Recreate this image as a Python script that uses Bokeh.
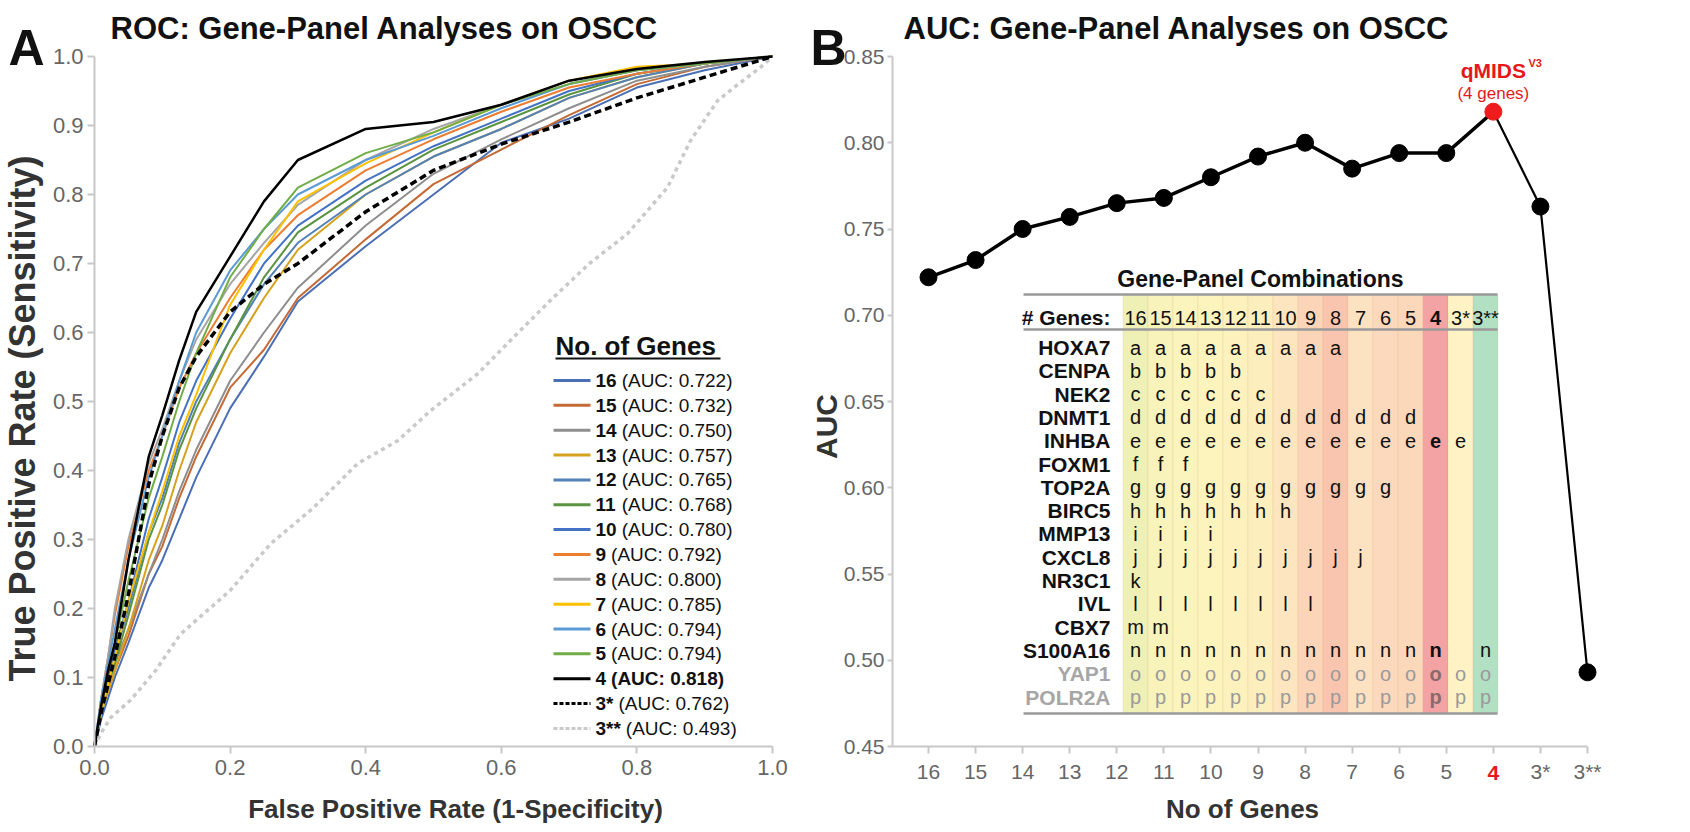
import math
from bokeh.plotting import figure
from bokeh.models import Range1d, FixedTicker, NumeralTickFormatter
from bokeh.layouts import row
from bokeh.embed import file_html
from bokeh.resources import INLINE
from bokeh.core.properties import value

FONT = "Liberation Sans"

# ---------------- Panel A: ROC curves ----------------
FPR = [0, .01, .02, .03, .05, .08, .10, .125, .15, .20, .25, .30, .40, .50, .60, .70, .80, .90, 1.0]
TPR_16 = [0, .04, .07, .10, .15, .23, .27, .33, .39, .49, .565, .645, .725, .80, .875, .91, .955, .98, 1]
TPR_15 = [0, .05, .08, .11, .16, .25, .29, .36, .42, .52, .575, .65, .735, .815, .865, .915, .96, .985, 1]
TPR_14 = [0, .06, .09, .12, .17, .25, .30, .37, .43, .53, .60, .665, .755, .83, .88, .925, .965, .985, 1]
TPR_13 = [0, .05, .08, .11, .17, .27, .32, .40, .47, .57, .65, .72, .80, .855, .895, .94, .97, .99, 1]
TPR_12 = [0, .06, .10, .13, .20, .31, .36, .44, .50, .59, .67, .73, .80, .855, .895, .94, .97, .99, 1]
TPR_11 = [0, .05, .09, .12, .19, .30, .35, .43, .49, .59, .68, .745, .81, .865, .905, .945, .975, .99, 1]
TPR_10 = [0, .06, .10, .14, .21, .33, .39, .47, .53, .62, .70, .755, .82, .87, .91, .95, .975, .99, 1]
TPR_9 = [0, .07, .13, .19, .29, .40, .45, .52, .57, .65, .72, .77, .835, .88, .92, .955, .975, .99, 1]
TPR_8 = [0, .07, .13, .20, .30, .41, .46, .53, .59, .67, .73, .785, .85, .895, .93, .96, .98, .99, 1]
TPR_7 = [0, .05, .09, .13, .21, .31, .37, .45, .51, .64, .72, .79, .845, .89, .93, .965, .985, .99, 1]
TPR_6 = [0, .07, .12, .17, .27, .39, .45, .53, .60, .69, .75, .80, .85, .885, .925, .96, .98, .99, 1]
TPR_5 = [0, .06, .11, .15, .24, .36, .42, .50, .57, .68, .75, .81, .86, .89, .93, .96, .98, .99, 1]
TPR_4 = [0, .06, .11, .15, .27, .42, .48, .56, .63, .71, .79, .85, .895, .905, .93, .965, .982, .992, 1]
TPR_3S = [0, .05, .09, .13, .22, .38, .45, .52, .565, .63, .67, .70, .775, .835, .873, .905, .94, .97, 1]
FPR_3SS = [0, .01, .024, .053, .09, .127, .2, .26, .323, .388, .447, .496, .565, .62, .677, .73, .786, .845, .879, .919, .943, .982, 1]
TPR_3SS = [0, .02, .042, .067, .11, .163, .226, .294, .346, .41, .443, .487, .54, .595, .651, .70, .743, .81, .878, .936, .955, .984, 1]

SERIES_NAMES = ["16", "15", "14", "13", "12", "11", "10", "9", "8", "7", "6", "5", "4", "3*", "3**"]
SERIES_AUC = [0.722, 0.732, 0.750, 0.757, 0.765, 0.768, 0.780, 0.792, 0.800, 0.785, 0.794, 0.794, 0.818, 0.762, 0.493]
SERIES_COLORS = ["#4a6fb5", "#c56a35", "#8e8e8e", "#d6a21e", "#5282b8", "#5a9440",
                 "#4472c4", "#ed7d31", "#a5a5a5", "#ffc000", "#5b9bd5", "#70ad47",
                 "#000000", "#000000", "#c9c9c9"]
COLORED_TPR = [TPR_16, TPR_15, TPR_14, TPR_13, TPR_12, TPR_11, TPR_10, TPR_9, TPR_8, TPR_7, TPR_6, TPR_5]
ROC_X_TICKS = [0.0, 0.2, 0.4, 0.6, 0.8, 1.0]
ROC_Y_TICKS = [0.0, 0.1, 0.2, 0.3, 0.4, 0.5, 0.6, 0.7, 0.8, 0.9, 1.0]

# ---------------- Panel B: AUC per panel ----------------
PANEL_LABELS = ["16", "15", "14", "13", "12", "11", "10", "9", "8", "7", "6", "5", "4", "3*", "3**"]
PANEL_AUC = [0.722, 0.732, 0.750, 0.757, 0.765, 0.768, 0.780, 0.792, 0.800, 0.785, 0.794, 0.794, 0.818, 0.763, 0.493]
AUC_TICKS = [0.45, 0.50, 0.55, 0.60, 0.65, 0.70, 0.75, 0.80, 0.85]
BEST = 12

GENES = ["HOXA7", "CENPA", "NEK2", "DNMT1", "INHBA", "FOXM1", "TOP2A", "BIRC5",
         "MMP13", "CXCL8", "NR3C1", "IVL", "CBX7", "S100A16", "YAP1", "POLR2A"]
GENE_CODES = list("abcdefghijklmnop")
# membership of each gene in panels 16 .. 3**
MEMBERSHIP = [
    "111111111000000",
    "111110000000000",
    "111111000000000",
    "111111111111000",
    "111111111111110",
    "111000000000000",
    "111111111110000",
    "111111100000000",
    "111100000000000",
    "111111111100000",
    "100000000000000",
    "111111110000000",
    "110000000000000",
    "111111111111101",
    "111111111111111",
    "111111111111111",
]
REF_GENES = ["YAP1", "POLR2A"]
BAND_COLORS = ["#eef0b6", "#f7f3ba", "#fbf4bc", "#fcf3bd", "#fdf2bd", "#fdefbd", "#fde6bf",
               "#fcd5b8", "#fac5af", "#fde2c2", "#fcd9bc", "#fcd8bb", "#f4a3a5", "#fff3c6", "#b2e0c3"]

H = 830
W1 = 790
W2 = 1690 - W1


def style_axes(p, size):
    p.grid.visible = False
    p.outline_line_color = None
    p.min_border = 0
    for ax in (p.xaxis[0], p.yaxis[0]):
        ax.axis_line_color = "#c8c8c8"
        ax.axis_line_width = 2
        ax.major_tick_line_color = "#c8c8c8"
        ax.major_tick_line_width = 2
        ax.major_tick_out = 7
        ax.major_tick_in = 0
        ax.minor_tick_line_color = None
        ax.major_label_text_font = FONT
        ax.major_label_text_font_size = size
        ax.major_label_text_color = "#666666"


def put_text(p, x, y, text, size, bold=True, color="#111111", align="left", angle=0.0, baseline="middle"):
    p.text(x=[x], y=[y], text=[text], text_font=value(FONT), text_font_size=size,
           text_font_style="bold" if bold else "normal", text_color=color,
           text_align=align, text_baseline=baseline, angle=angle)


# ================= Panel A =================
A_L, A_R, A_T, A_B = 94, 772, 56, 746


def lx(px):
    return (px - A_L) / (A_R - A_L)


def ly(py):
    return (A_B - py) / (A_B - A_T)


p1 = figure(width=W1, height=H, x_range=Range1d(lx(0), lx(W1)), y_range=Range1d(ly(H), ly(0)),
            output_backend="svg", toolbar_location=None, title=None)
style_axes(p1, "22px")
p1.xaxis.fixed_location = 0
p1.yaxis.fixed_location = 0
p1.xaxis.bounds = (0, 1)
p1.yaxis.bounds = (0, 1)
p1.xaxis.ticker = FixedTicker(ticks=ROC_X_TICKS)
p1.yaxis.ticker = FixedTicker(ticks=ROC_Y_TICKS)
p1.xaxis.formatter = NumeralTickFormatter(format="0.0")
p1.yaxis.formatter = NumeralTickFormatter(format="0.0")
p1.xaxis.major_label_standoff = 6
p1.yaxis.major_label_standoff = 4

for tpr, col in zip(COLORED_TPR, SERIES_COLORS[:12]):
    p1.line(FPR, tpr, line_color=col, line_width=2)
p1.line(FPR_3SS, TPR_3SS, line_color=SERIES_COLORS[14], line_width=3.5, line_dash="4 4")
p1.line(FPR, TPR_3S, line_color="#000000", line_width=3.5, line_dash="7 4")
p1.line(FPR, TPR_4, line_color="#000000", line_width=2.5)

# legend drawn by hand (mixes bold and regular text)
put_text(p1, lx(555), ly(345), "No. of Genes", "26px")
p1.line([lx(555), lx(720)], [ly(358), ly(358)], line_color="#111111", line_width=2)

CHAR_W = {"*": 0.389}
for i, (nm, auc, col) in enumerate(zip(SERIES_NAMES, SERIES_AUC, SERIES_COLORS)):
    py = 380 + 24.85 * i
    dash = "4 2" if nm.startswith("3") else "solid"
    p1.line([lx(553), lx(590)], [ly(py), ly(py)], line_color=col, line_width=3, line_dash=dash)
    num_w = sum(CHAR_W.get(c, 0.556) for c in nm) * 19
    put_text(p1, lx(595), ly(py), nm, "19px")
    put_text(p1, lx(595 + num_w + 5), ly(py), "(AUC: %.3f)" % auc, "19px", bold=(i == BEST))

put_text(p1, lx(8), ly(47), "A", "50px", baseline="alphabetic")
put_text(p1, lx(110), ly(28), "ROC: Gene-Panel Analyses on OSCC", "31px")
put_text(p1, lx(22), ly(418), "True Positive Rate (Sensitivity)", "36px", color="#333333",
         align="center", angle=math.pi / 2)
put_text(p1, lx(455), ly(808), "False Positive Rate (1-Specificity)", "26px", color="#333333", align="center")

# ================= Panel B =================
B_L, B_R = 892, 1587
X16 = 928
SX = (B_R - X16) / 14.0
SY = (A_B - A_T) / 0.40


def rx(px):
    return (px - X16) / SX


def ry(py):
    return 0.85 - (py - A_T) / SY


p2 = figure(width=W2, height=H, x_range=Range1d(rx(W1), rx(W1 + W2)), y_range=Range1d(ry(H), ry(0)),
            output_backend="svg", toolbar_location=None, title=None)
style_axes(p2, "21px")
p2.xaxis.fixed_location = 0.45
p2.yaxis.fixed_location = rx(B_L)
p2.xaxis.bounds = (rx(B_L), len(PANEL_LABELS) - 1)
p2.yaxis.bounds = (0.45, 0.85)
p2.xaxis.ticker = FixedTicker(ticks=list(range(len(PANEL_LABELS))))
p2.xaxis.major_label_overrides = {i: ("" if i == BEST else lab) for i, lab in enumerate(PANEL_LABELS)}
p2.yaxis.ticker = FixedTicker(ticks=AUC_TICKS)
p2.yaxis.formatter = NumeralTickFormatter(format="0.00")
p2.xaxis.major_label_standoff = 6
p2.yaxis.major_tick_out = 5
p2.yaxis.major_label_standoff = 3

# --- table of gene-panel combinations ---
COL0, COLW = 1135, 25
ROW0, ROWH = 347, 23.3
T_TOP, T_HDR, T_BOT = 294, 329, 713
T_LEFT, T_RIGHT = 1023, 1497
n_cols = len(PANEL_LABELS)
p2.rect(x=[rx(COL0 + COLW * j) for j in range(n_cols)], y=[ry((T_TOP + T_BOT) / 2)] * n_cols,
        width=COLW / SX, height=(T_BOT - T_TOP) / SY, fill_color=BAND_COLORS,
        line_color="#c08040", line_alpha=0.12, line_width=1)
for yy in (T_TOP, T_HDR, T_BOT):
    p2.line([rx(T_LEFT), rx(T_RIGHT)], [ry(yy), ry(yy)], line_color="#9a9a9a", line_width=2.5)

put_text(p2, rx((T_LEFT + T_RIGHT) / 2), ry(278), "Gene-Panel Combinations", "23px", align="center")
put_text(p2, rx(1110), ry(317), "# Genes:", "21px", align="right")
hx = [rx(COL0 + COLW * j) for j in range(n_cols) if j != BEST]
hl = [lab for j, lab in enumerate(PANEL_LABELS) if j != BEST]
p2.text(x=hx, y=[ry(317)] * len(hx), text=hl, text_font=value(FONT), text_font_size="20px",
        text_align="center", text_baseline="middle", text_color="#111111")
put_text(p2, rx(COL0 + COLW * BEST), ry(317), PANEL_LABELS[BEST], "20px", align="center")

for gi, (gene, code, mem) in enumerate(zip(GENES, GENE_CODES, MEMBERSHIP)):
    py = ROW0 + ROWH * gi
    is_ref = gene in REF_GENES
    put_text(p2, rx(1110), ry(py), gene, "21px", color="#a6a6a6" if is_ref else "#111111", align="right")
    xs = [rx(COL0 + COLW * j) for j in range(n_cols) if mem[j] == "1" and j != BEST]
    if xs:
        p2.text(x=xs, y=[ry(py)] * len(xs), text=[code] * len(xs), text_font=value(FONT),
                text_font_size="20px", text_align="center", text_baseline="middle",
                text_color="#9a9a9a" if is_ref else "#111111")
    if mem[BEST] == "1":
        put_text(p2, rx(COL0 + COLW * BEST), ry(py), code, "20px",
                 color="#8a6a6a" if is_ref else "#111111", align="center")

# --- AUC line ---
idx = list(range(len(PANEL_AUC)))
p2.line(idx[:BEST + 1], PANEL_AUC[:BEST + 1], line_color="#000000", line_width=3.5)
p2.line(idx[BEST:], PANEL_AUC[BEST:], line_color="#000000", line_width=2.2)
others = [i for i in idx if i != BEST]
p2.scatter(others, [PANEL_AUC[i] for i in others], size=17, fill_color="#000000", line_color="#000000")
p2.scatter([BEST], [PANEL_AUC[BEST]], size=17, fill_color="#ee1c1c", line_color="#ee1c1c")

put_text(p2, BEST, ry(70), "qMIDS", "21px", color="#e3191c", align="center")
put_text(p2, rx(1528), ry(62), "V3", "11px", color="#e3191c")
put_text(p2, BEST, ry(93), "(4 genes)", "17px", bold=False, color="#e3191c", align="center")

put_text(p2, rx(810), ry(47), "B", "50px", baseline="alphabetic")
put_text(p2, rx(903), ry(28), "AUC: Gene-Panel Analyses on OSCC", "31px")
put_text(p2, rx(826), ry(426), "AUC", "30px", color="#333333", align="center", angle=math.pi / 2)
put_text(p2, rx(1242), ry(808), "No of Genes", "26px", color="#333333", align="center")
put_text(p2, BEST, ry(772), PANEL_LABELS[BEST], "21px", color="#e3191c", align="center")

layout = row(p1, p2)
open("out.html", "w").write(file_html(layout, INLINE))
